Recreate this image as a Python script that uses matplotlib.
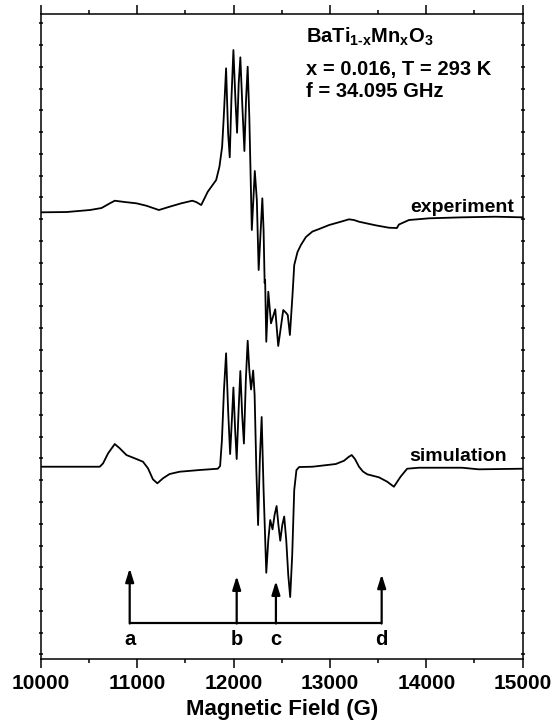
import numpy as np
import matplotlib
matplotlib.use("Agg")
import matplotlib.pyplot as plt

plt.rcParams['font.family'] = ['Liberation Sans', 'DejaVu Sans']
plt.rcParams['font.weight'] = 'bold'
plt.rcParams['mathtext.fontset'] = 'custom'
plt.rcParams['mathtext.rm'] = 'Liberation Sans:bold'
plt.rcParams['mathtext.it'] = 'Liberation Sans:bold'
plt.rcParams['mathtext.bf'] = 'Liberation Sans:bold'

# ---------------- data (field in G, intensity in arbitrary units) ----------------
exp_field = [10000, 10269, 10510, 10631, 10717, 10768, 10872, 10993, 11096, 11226,
             11337, 11458, 11572, 11613, 11665, 11733, 11820, 11854, 11882, 11899,
             11923, 11944, 11961, 11978, 11999, 12020, 12037, 12054, 12071, 12092,
             12113, 12130, 12147, 12164, 12190, 12221, 12242, 12261, 12299, 12312,
             12323, 12328, 12340, 12361, 12389, 12433, 12464, 12516, 12544, 12563,
             12585, 12612, 12630, 12664, 12699, 12751, 12819, 12888, 12992, 13095,
             13198, 13250, 13302, 13475, 13612, 13695, 13716, 13820, 14027, 14370,
             14716, 15000]
exp_signal = [446.7, 447, 449, 451, 455.7, 458.3, 457, 455.7, 453.3, 449,
              452.3, 455.7, 458.3, 457, 454, 467.3, 479, 492.3, 512.3, 542.3,
              590.7, 526, 501.7, 559, 609, 559, 526.3, 576, 601.7, 552.3,
              508, 559, 592.3, 542.3, 429, 488, 459, 389, 460.7, 429,
              376, 379, 317.3, 367.3, 335.7, 349.7, 313, 349, 346.3, 344,
              324, 364, 394, 407, 414, 422, 427.5, 430, 434, 436.8,
              439.7, 439, 437.3, 433.7, 431.3, 431, 434.5, 439, 440.7, 441.7,
              442.3, 441.7]

sim_field = [10000, 10613, 10647, 10699, 10768, 10820, 10889, 10993, 11061, 11113,
             11164, 11210, 11268, 11337, 11441, 11647, 11837, 11861, 11880, 11901,
             11923, 11944, 11965, 11983, 11999, 12017, 12033, 12053, 12071, 12090,
             12108, 12128, 12147, 12164, 12182, 12204, 12219, 12237, 12255, 12273,
             12292, 12312, 12340, 12361, 12381, 12405, 12426, 12447, 12466, 12485,
             12506, 12526, 12547, 12568, 12588, 12609, 12630, 12653, 12681, 12819,
             13061, 13147, 13193, 13226, 13260, 13302, 13343, 13388, 13509, 13595,
             13664, 13733, 13801, 13922, 14370, 14543, 15000]
sim_signal = [192.3, 192.3, 195.7, 205.7, 215, 210.7, 204, 200, 197.3, 190.7,
              179.7, 175.7, 180.7, 185, 187.3, 189, 190.3, 193, 219, 269,
              305.7, 249, 205, 239, 271.5, 229, 200, 249, 288, 244,
              215.5, 279, 318.3, 289, 269.5, 288.5, 264, 189, 134, 199,
              242, 169, 86.3, 119, 139, 129.7, 144, 153, 134, 118.3,
              134, 142.5, 119, 84, 62, 104, 169, 189, 192, 192.3,
              195, 198.3, 202, 204, 200, 192.3, 187.5, 184.7, 181.7, 177.3,
              172.3, 182.3, 190.3, 191.3, 191.3, 189.7, 190.3]

arrow_fields = [10923, 12033, 12440, 13537]
arrow_tops = [90.7, 83, 78, 84.7]
arrow_base = 36.3
arrow_labels = ['a', 'b', 'c', 'd']
label_level = 19.5

info_lines = [r"BaTi$_{1\text{-}x}$Mn$_{x}$O$_{3}$",
              "x = 0.016, T = 293 K",
              "f = 34.095 GHz"]

# ---------------- figure ----------------
fig = plt.figure(figsize=(5.57, 7.27), dpi=100)
ax = fig.add_axes([0.0731, 0.0935, 0.8653, 0.8868])

ax.plot(exp_field, exp_signal, color='black', lw=1.3)
ax.plot(sim_field, sim_signal, color='black', lw=1.3)

ax.set_xlim(10000, 15000)
ax.set_ylim(0, 644.7)

ax.set_xticks(np.arange(10000, 15001, 1000))
ax.set_xticks(np.arange(10500, 15000, 1000), minor=True)
ax.set_yticks(4.7 + 21.76 * np.arange(30))
ax.set_yticklabels([])
ax.tick_params(axis='x', which='major', direction='out', length=6.5, width=1.1,
               labelsize=15, pad=4.5)
ax.tick_params(axis='x', which='minor', direction='out', length=3, width=1.1)
ax.tick_params(axis='x', which='both', top=True)
ax.tick_params(axis='y', direction='inout', length=3.5, width=1.1, right=True)
for lbl in ax.get_xticklabels():
    lbl.set_fontweight('bold')
for s in ax.spines.values():
    s.set_linewidth(1.1)

ax.set_xlabel("Magnetic Field (G)", fontsize=16, fontweight='bold', labelpad=4)

# labels for traces
ax.text(14915, 447, "experiment", ha='right', va='baseline', fontsize=14, fontweight='bold')
ax.text(14835, 198.3, "simulation", ha='right', va='baseline', fontsize=14, fontweight='bold')

# info block
info_y = [616.3, 584, 561.7]
for txt, yy in zip(info_lines, info_y):
    ax.text(12757, yy, txt, ha='left', va='baseline', fontsize=14.5, fontweight='bold')

# stick diagram
ax.plot([arrow_fields[0], arrow_fields[-1]], [arrow_base, arrow_base], color='black', lw=1.6,
        solid_capstyle='butt')
for fld, top, lab in zip(arrow_fields, arrow_tops, arrow_labels):
    ax.annotate('', xy=(fld, top), xytext=(fld, arrow_base - 0.8),
                arrowprops=dict(arrowstyle='-|>,head_length=0.8,head_width=0.25',
                                color='black', lw=1.6, shrinkA=0, shrinkB=0))
    ax.text(fld, label_level, lab, ha='center', va='center', fontsize=14.5, fontweight='bold')

fig.savefig('out.png', dpi=100)
